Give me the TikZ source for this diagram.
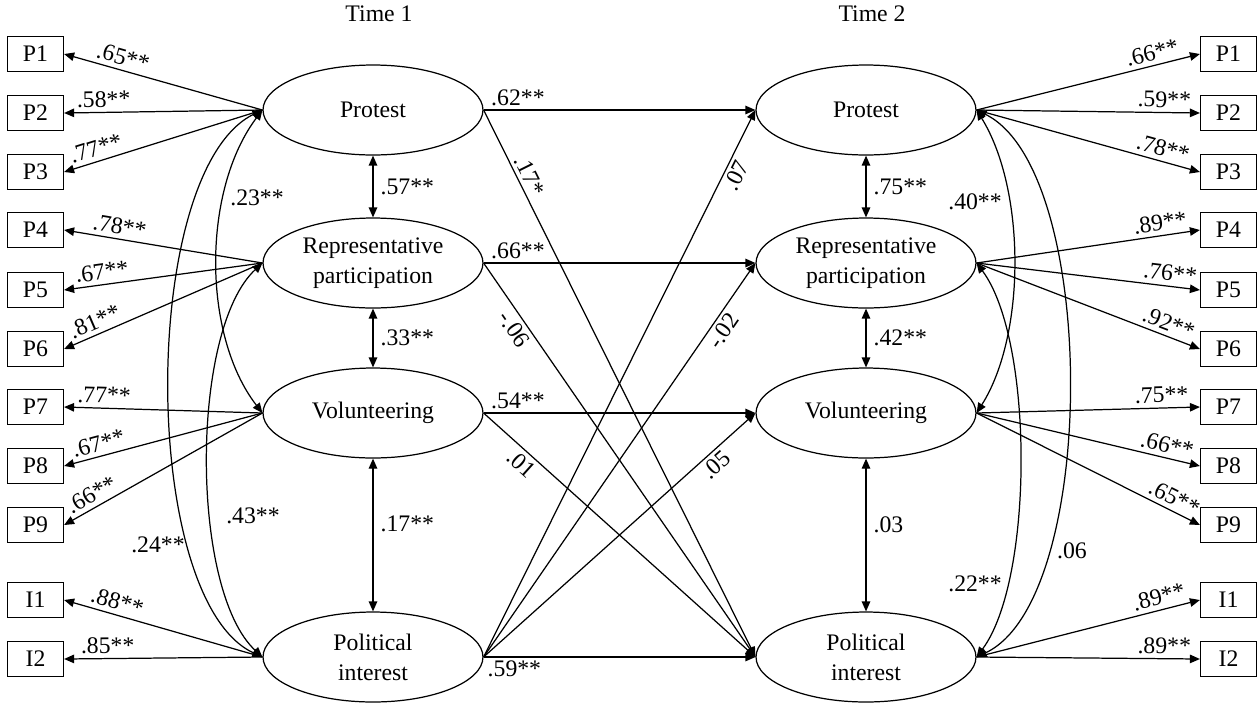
\documentclass[tikz,border=0pt]{standalone}
\usepackage{fontspec}
\setmainfont{Liberation Serif}
\usetikzlibrary{arrows.meta,shapes.geometric}

\tikzset{
  latent/.style={draw, ellipse, minimum width=4.4cm, minimum height=1.8cm, inner sep=0pt, align=center},
  obs/.style={draw, rectangle, minimum width=1.12cm, minimum height=0.7cm, inner sep=0pt},
  ld/.style={sloped, above, inner sep=2.5pt},
  est/.style={inner sep=2pt}
}

\begin{document}
\begin{tikzpicture}[x=0.02cm, y=-0.02cm, line width=0.7pt,
    font=\fontsize{13.5}{17}\selectfont,
    >={Triangle[length=2mm,width=1.7mm]}]
        \fill[white] (0,0) rectangle (1257,704);
        \useasboundingbox (0,0) rectangle (1257,704);
        \node (t1) at (379,14) {Time 1};
        \node (t2) at (872,14) {Time 2};
        % latent factors
        \node[latent] (protA) at (373,110) {Protest};
        \node[latent] (repA) at (373,263) {Representative\\participation};
        \node[latent] (volA) at (373,413) {Volunteering};
        \node[latent] (intA) at (373,657) {Political\\interest};
        \node[latent] (protB) at (866,110) {Protest};
        \node[latent] (repB) at (866,263) {Representative\\participation};
        \node[latent] (volB) at (866,413) {Volunteering};
        \node[latent] (intB) at (866,657) {Political\\interest};
        % indicators
        \foreach \ind/\txt/\y in {p1/P1/54, p2/P2/113, p3/P3/172, p4/P4/230, p5/P5/290, p6/P6/349, p7/P7/407, p8/P8/466, p9/P9/525, i1/I1/600, i2/I2/659}
        {
        \node[obs] (\ind a) at (35.5,\y) {\txt};
        \node[obs] (\ind b) at (1228.5,\y) {\txt};
        }
        \foreach \src/\ind/\est/\p in {protA/p1/.65/0.72, protA/p2/.58/0.8, protA/p3/.77/0.82, repA/p4/.78/0.73, repA/p5/.67/0.8, repA/p6/.81/0.82, volA/p7/.77/0.8, volA/p8/.67/0.81, volA/p9/.66/0.83, intA/i1/.88/0.75, intA/i2/.85/0.78}
        \draw[->] (\src.west) -- node[ld, pos=\p] (l\ind a) {\est**} (\ind a.east);
        \foreach \src/\ind/\est/\p in {protB/p1/.66/0.8, protB/p2/.59/0.84, protB/p3/.78/0.82, repB/p4/.89/0.83, repB/p5/.76/0.86, repB/p6/.92/0.84, volB/p7/.75/0.83, volB/p8/.66/0.84, volB/p9/.65/0.86, intB/i1/.89/0.83, intB/i2/.89/0.84}
        \draw[->] (\src.east) -- node[ld, pos=\p] (l\ind b) {\est**} (\ind b.west);
        % stability and cross-lagged paths
        \draw[->] (protA.east) -- node[est, pos=0, anchor=south west, xshift=2pt] (s1) {.62**} (protB.west);
        \draw[->] (repA.east) -- node[est, pos=0, anchor=south west, xshift=2pt] (s2) {.66**} (repB.west);
        \draw[->] (volA.east) -- node[est, pos=0, anchor=south west, xshift=2pt] (s3) {.54**} (volB.west);
        \draw[->] (intA.east) -- node[est, pos=0, anchor=north west] (s4) {.59**} (intB.west);
        \draw[->] (protA.east) -- node[sloped, above, est, pos=0.13] (x1) {.17*} (intB.west);
        \draw[->] (repA.east) -- node[sloped, below, est, pos=0.15] (x2) {-.06} (intB.west);
        \draw[->] (volA.east) -- node[sloped, below, est, pos=0.17] (x3) {.01} (intB.west);
        \draw[->] (intA.east) -- node[sloped, below, est, pos=0.89] (x4) {.07} (protB.west);
        \draw[->] (intA.east) -- node[sloped, below, est, pos=0.845] (x5) {-.02} (repB.west);
        \draw[->] (intA.east) -- node[sloped, below, est, pos=0.825] (x6) {.05} (volB.west);
        % correlations
        \draw[<->] (protA.south) -- node[est, right, xshift=2pt] (r1) {.57**} (repA.north);
        \draw[<->] (repA.south) -- node[est, right, xshift=2pt] (r2) {.33**} (volA.north);
        \draw[<->] (volA.south) -- node[est, right, xshift=2pt, pos=0.43] (r3) {.17**} (intA.north);
        \draw[<->] (protB.south) -- node[est, right, xshift=2pt] (r4) {.75**} (repB.north);
        \draw[<->] (repB.south) -- node[est, right, xshift=2pt] (r5) {.42**} (volB.north);
        \draw[<->] (volB.south) -- node[est, right, xshift=2pt, pos=0.43] (r6) {.03} (intB.north);
        \draw[<->] (protA.west) .. controls (202,190) and (202,335) .. (volA.west);
        \draw[<->] (protA.west) .. controls (139,170) and (139,600) .. (intA.west);
        \draw[<->] (repA.west) .. controls (190,330) and (190,590) .. (intA.west);
        \draw[<->] (protB.east) .. controls (1026,190) and (1026,335) .. (volB.east);
        \draw[<->] (protB.east) .. controls (1099,170) and (1099,600) .. (intB.east);
        \draw[<->] (repB.east) .. controls (1034,340) and (1034,580) .. (intB.east);
        \node (c1) at (257,198) {.23**};
        \node (c2) at (158,545) {.24**};
        \node (c3) at (253,516) {.43**};
        \node (c4) at (975,202) {.40**};
        \node (c5) at (975,584) {.22**};
        \node (c6) at (1072,551) {.06};
    \end{tikzpicture}
\end{document}
